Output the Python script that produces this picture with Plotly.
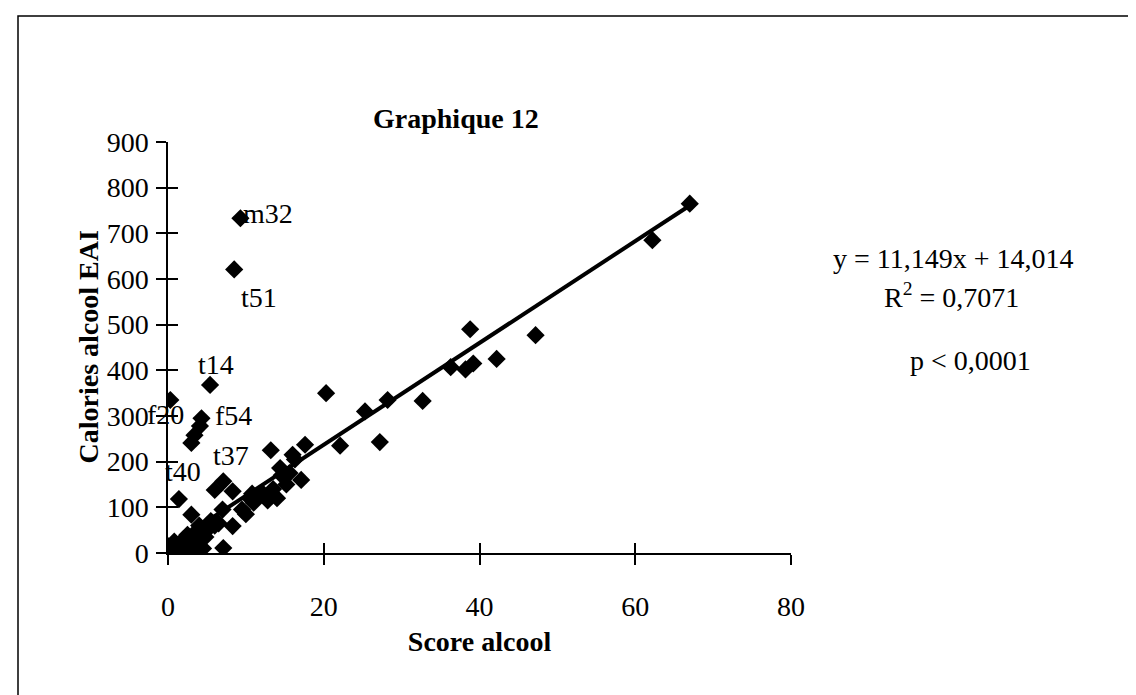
import numpy as np
import plotly.graph_objects as go

# ---- data ----
score_alcool = [67.0, 62.2, 47.2, 42.2, 38.8, 39.2, 38.2, 36.3, 32.7, 28.2,
                27.2, 25.3, 22.1, 20.3, 17.6, 17.1, 16.3, 16.0, 15.6, 15.2,
                14.4, 14.0, 14.6, 13.2, 12.8, 12.2, 11.5, 11.0, 10.5, 10.0,
                9.3, 8.5, 8.3, 8.3, 7.1, 6.0, 7.0, 7.1, 6.5, 5.4,
                5.5, 4.3, 4.1, 3.4, 3.0, 3.0, 0.3, 1.4, 4.0, 3.5,
                2.5, 2.0, 1.5, 1.0, 0.5, 0.2, 0.0, 0.8, 2.8, 3.8,
                4.5, 5.0, 6.0, 2.2, 3.2, 1.2, 4.8, 10.8, 13.5, 9.5]
calories_eai = [765, 685, 477, 425, 490, 415, 402, 407, 333, 335,
                243, 310, 235, 350, 237, 160, 205, 215, 175, 150,
                186, 120, 170, 225, 115, 130, 125, 110, 120, 85,
                733, 621, 135, 59, 157, 138, 95, 11, 65, 368,
                70, 295, 278, 258, 241, 84, 335, 118, 60, 45,
                40, 30, 20, 10, 5, 0, 15, 25, 15, 25,
                10, 50, 60, 5, 0, 0, 35, 130, 140, 95]

labels = ["m32", "t51", "t14", "f20", "f54", "t37", "t40"]
label_index = [30, 31, 39, 46, 41, 34, 47]
label_shift_x = [1, 25, 6, -5, 32, 8, 4]
label_shift_y = [5, -28, 20, -14, 3, 26, 28]
label_anchor = ["left", "center", "center", "center", "center", "center", "center"]

slope = 11.149
intercept = 14.014
eq_lines = ["y = 11,149x + 14,014", "R<sup>2</sup> = 0,7071", "p < 0,0001"]

x_ticks = [0, 20, 40, 60, 80]
y_ticks = [0, 100, 200, 300, 400, 500, 600, 700, 800, 900]

FONT = "Liberation Serif, Times New Roman, serif"

fig = go.Figure()

fig.add_trace(go.Scatter(
    x=score_alcool, y=calories_eai, mode="markers",
    marker=dict(symbol="diamond", size=14, color="black"),
    showlegend=False, hoverinfo="skip"))

x_line = np.array([min(score_alcool), max(score_alcool)])
fig.add_trace(go.Scatter(
    x=x_line, y=slope * x_line + intercept, mode="lines",
    line=dict(color="black", width=4), showlegend=False, hoverinfo="skip"))

# invisible trace on overlay axes to draw crossing ticks
fig.add_trace(go.Scatter(x=[0], y=[0], xaxis="x2", yaxis="y2", mode="markers",
                         marker=dict(opacity=0), showlegend=False, hoverinfo="skip"))

for name, idx, dx, dy, anc in zip(labels, label_index, label_shift_x, label_shift_y, label_anchor):
    fig.add_annotation(x=score_alcool[idx], y=calories_eai[idx], text=name,
                       showarrow=False, xanchor=anc, yanchor="middle",
                       xshift=dx, yshift=dy,
                       font=dict(family=FONT, size=28, color="black"))

# equation text
eq_pos = [(945, 250), (943, 287), (962, 352)]
for txt, (px, py) in zip(eq_lines, eq_pos):
    fig.add_annotation(xref="paper", yref="paper",
                       x=(px - 160) / 623, y=(545 - py) / 411,
                       text=txt, showarrow=False, xanchor="center", yanchor="middle",
                       font=dict(family=FONT, size=28, color="black"))

fig.add_annotation(xref="paper", yref="paper", x=(448 - 160) / 623, y=(545 - 111) / 411,
                   text="<b>Graphique 12</b>", showarrow=False,
                   xanchor="center", yanchor="middle",
                   font=dict(family=FONT, size=28, color="black"))

# y-axis title (placed close to the tick labels as in the original)
fig.add_annotation(xref="paper", yref="paper", x=(80 - 160) / 623, y=0.5,
                   text="<b>Calories alcool EAI</b>", showarrow=False, textangle=-90,
                   xanchor="center", yanchor="middle",
                   font=dict(family=FONT, size=28, color="black"))

# outer frame
fig.add_shape(type="rect", xref="paper", yref="paper",
              x0=(10 - 160) / 623, x1=(1124 - 160) / 623,
              y0=(545 - 688) / 411, y1=(545 - 8) / 411,
              line=dict(color="black", width=1.5), fillcolor="rgba(0,0,0,0)")

axis_common = dict(showgrid=False, zeroline=False, showline=True, linecolor="black",
                   linewidth=1.5, ticks="outside", ticklen=10, tickcolor="black",
                   tickwidth=1.5)

fig.update_layout(
    width=1136, height=695,
    margin=dict(l=160, r=353, t=134, b=150),
    paper_bgcolor="white", plot_bgcolor="white",
    font=dict(family=FONT, size=28, color="black"),
    xaxis=dict(range=[0, 80], tickvals=x_ticks, ticklabelstandoff=18,
               title=dict(text="<b>Score alcool</b>", standoff=10,
                          font=dict(family=FONT, size=28)),
               **axis_common),
    yaxis=dict(range=[0, 900], tickvals=y_ticks, ticklabelstandoff=2,
               **axis_common),
    xaxis2=dict(range=[0, 80], overlaying="x", tickvals=x_ticks, showticklabels=False,
                showgrid=False, zeroline=False, showline=False, ticks="inside",
                ticklen=10, tickcolor="black", tickwidth=1.5),
    yaxis2=dict(range=[0, 900], overlaying="y", tickvals=y_ticks, showticklabels=False,
                showgrid=False, zeroline=False, showline=False, ticks="inside",
                ticklen=10, tickcolor="black", tickwidth=1.5),
)

fig.write_html("out.html")
